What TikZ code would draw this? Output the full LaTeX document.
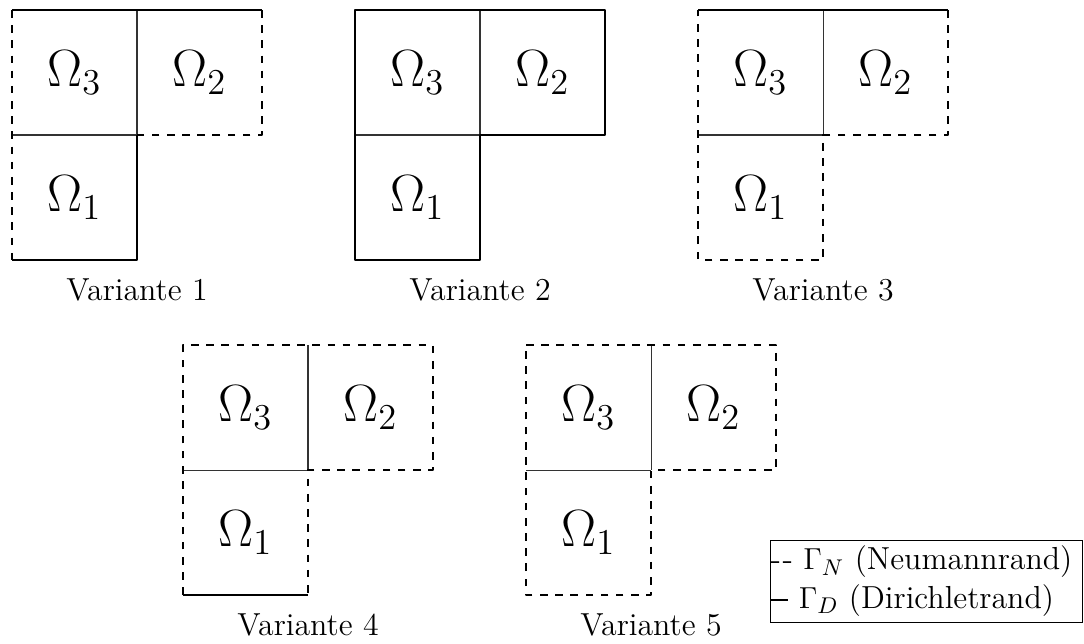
\documentclass[tikz,border=0pt,12pt]{standalone}
\usepackage{amsmath}
\usetikzlibrary{positioning}

\begin{document}
\begin{tikzpicture}[
  x=1.737cm, y=1.737cm,
  dir/.style={thick, line join=round},
  neu/.style={thick, dashed, line join=round},
  fuge/.style={thin, black!80},
  gebiet/.style={font=\LARGE},
  titel/.style={font=\fontsize{12.6}{15.2}\selectfont}
]
\useasboundingbox (0,0) rectangle (8.672,-5.144);

% variante 1
\begin{scope}[shift={(0.096,-0.08)}]
\draw[fuge] (0,-1) -- (1,-1) (1,0) -- (1,-1);
\draw[dir] (0,0) -- (2,0);
\draw[neu] (2,0) -- (2,-1) -- (1,-1);
\draw[dir] (1,-1) -- (1,-2) -- (0,-2);
\draw[neu] (0,0) -- (0,-2);
\node[gebiet] (v1o3) at (0.5,-0.5) {$\Omega_3$};
\node[gebiet] (v1o2) at (1.5,-0.5) {$\Omega_2$};
\node[gebiet] (v1o1) at (0.5,-1.5) {$\Omega_1$};
\node[titel]  (v1tit) at (1,-2.24) {Variante 1};
\end{scope}

% variante 2
\begin{scope}[shift={(2.84,-0.08)}]
\draw[fuge] (0,-1) -- (1,-1) (1,0) -- (1,-1);
\draw[dir] (0,0) -- (2,0) -- (2,-1) -- (1,-1) -- (1,-2) -- (0,-2) -- cycle;
\node[gebiet] (v2o3) at (0.5,-0.5) {$\Omega_3$};
\node[gebiet] (v2o2) at (1.5,-0.5) {$\Omega_2$};
\node[gebiet] (v2o1) at (0.5,-1.5) {$\Omega_1$};
\node[titel]  (v2tit) at (1,-2.24) {Variante 2};
\end{scope}

% variante 3
\begin{scope}[shift={(5.584,-0.08)}]
\draw[fuge] (0,-1) -- (1,-1) (1,0) -- (1,-1);
\draw[dir] (0,0) -- (2,0);
\draw[neu] (2,0) -- (2,-1) -- (1,-1) -- (1,-2) -- (0,-2) -- (0,0);
\node[gebiet] (v3o3) at (0.5,-0.5) {$\Omega_3$};
\node[gebiet] (v3o2) at (1.5,-0.5) {$\Omega_2$};
\node[gebiet] (v3o1) at (0.5,-1.5) {$\Omega_1$};
\node[titel]  (v3tit) at (1,-2.24) {Variante 3};
\end{scope}

% variante 4
\begin{scope}[shift={(1.464,-2.76)}]
\draw[fuge] (0,-1) -- (1,-1) (1,0) -- (1,-1);
\draw[dir] (1,-2) -- (0,-2);
\draw[neu] (0,-2) -- (0,0) -- (2,0) -- (2,-1) -- (1,-1) -- (1,-2);
\node[gebiet] (v4o3) at (0.5,-0.5) {$\Omega_3$};
\node[gebiet] (v4o2) at (1.5,-0.5) {$\Omega_2$};
\node[gebiet] (v4o1) at (0.5,-1.5) {$\Omega_1$};
\node[titel]  (v4tit) at (1,-2.24) {Variante 4};
\end{scope}

% variante 5
\begin{scope}[shift={(4.208,-2.76)}]
\draw[fuge] (0,-1) -- (1,-1) (1,0) -- (1,-1);
\draw[neu] (0,0) -- (2,0) -- (2,-1) -- (1,-1) -- (1,-2) -- (0,-2) -- cycle;
\node[gebiet] (v5o3) at (0.5,-0.5) {$\Omega_3$};
\node[gebiet] (v5o2) at (1.5,-0.5) {$\Omega_2$};
\node[gebiet] (v5o1) at (0.5,-1.5) {$\Omega_1$};
\node[titel]  (v5tit) at (1,-2.24) {Variante 5};
\end{scope}

% legende
\node[draw, titel, inner xsep=0pt, inner ysep=1pt, anchor=south east] (leg) at (8.664,-4.984)
  {\begin{tabular}{@{}l@{\hspace{4pt}}}
   {-}\kern0.6pt{-} $\Gamma_N$ (Neumannrand)\\
   \rule[3pt]{7pt}{0.9pt} $\Gamma_D$ (Dirichletrand)
   \end{tabular}};
\end{tikzpicture}
\end{document}
